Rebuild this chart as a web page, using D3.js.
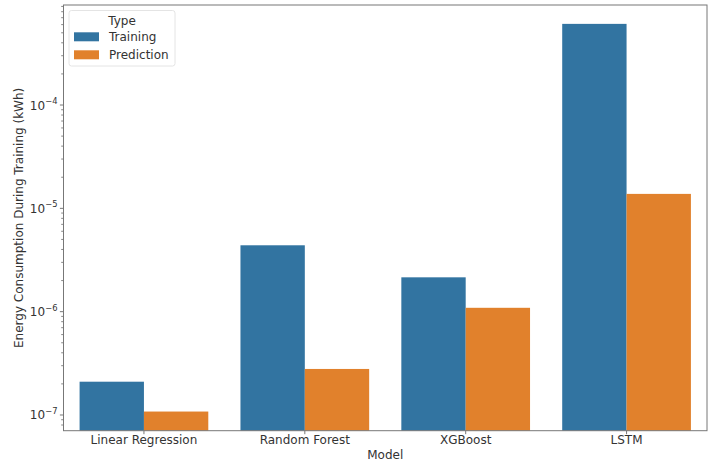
<!DOCTYPE html>
<html><head><meta charset="utf-8">
<script src="https://cdn.jsdelivr.net/npm/d3@7/dist/d3.min.js"></script>
<style>body{margin:0;background:#fff}</style>
</head><body>
<svg id="c" width="717" height="462"></svg>
<script>
const models = ["Linear Regression", "Random Forest", "XGBoost", "LSTM"];
const types = ["Training", "Prediction"];
const training = [2.10e-7, 4.39e-6, 2.15e-6, 6.1e-4];
const prediction = [1.08e-7, 2.79e-7, 1.09e-6, 1.38e-5];
const majorTicks = [1e-7, 1e-6, 1e-5, 1e-4];
const tickExps = ["−7", "−6", "−5", "−4"];
const colors = ["#3274a1", "#e1812c"];

const svg = d3.select("#c");
const L = 63.5, R = 707, T = 5, B = 430.7;
const font = "DejaVu Sans, sans-serif";
const fs = 12;
const x = d3.scaleBand().domain(models).range([L, R]).paddingInner(0).paddingOuter(0);
const xs = d3.scaleBand().domain(types).range([0, x.bandwidth()]).paddingInner(0).paddingOuter(0.25);
const y = d3.scaleLog().domain([Math.pow(10, -7.152), Math.pow(10, -3.032)]).range([B, T]);

const series = [training, prediction];
types.forEach((t, ti) => {
  svg.append("g").selectAll("rect").data(models).enter().append("rect")
    .attr("x", d => x(d) + xs(t))
    .attr("width", xs.bandwidth())
    .attr("y", (d, i) => y(series[ti][i]))
    .attr("height", (d, i) => B - y(series[ti][i]))
    .attr("fill", colors[ti]);
});

// minor ticks
const minor = [];
for (let e = -8; e <= -3; e++) for (let m = 2; m <= 9; m++) {
  const v = m * Math.pow(10, e);
  if (y(v) >= T && y(v) <= B) minor.push(v);
}
svg.append("g").selectAll("line").data(minor).enter().append("line")
  .attr("x1", L - 2.3).attr("x2", L).attr("y1", d => y(d)).attr("y2", d => y(d))
  .attr("stroke", "#555").attr("stroke-width", 0.7);
svg.append("g").selectAll("line").data(majorTicks).enter().append("line")
  .attr("x1", L - 3.6).attr("x2", L).attr("y1", d => y(d)).attr("y2", d => y(d))
  .attr("stroke", "#555").attr("stroke-width", 0.8);

const yl = svg.append("g").selectAll("text").data(majorTicks).enter().append("text")
  .attr("x", L - 6).attr("y", d => y(d) + 4.5)
  .attr("text-anchor", "end").attr("font-family", font).attr("font-size", fs).attr("fill", "#333");
yl.append("tspan").text("10");
yl.append("tspan").attr("font-size", 8.4).attr("dy", -5.5).text((d, i) => tickExps[i]);

// x ticks
svg.append("g").selectAll("line").data(models).enter().append("line")
  .attr("x1", d => x(d) + x.bandwidth() / 2).attr("x2", d => x(d) + x.bandwidth() / 2)
  .attr("y1", B).attr("y2", B + 3.5).attr("stroke", "#555").attr("stroke-width", 0.8);
svg.append("g").selectAll("text").data(models).enter().append("text")
  .attr("x", d => x(d) + x.bandwidth() / 2).attr("y", 444)
  .attr("text-anchor", "middle").attr("font-family", font).attr("font-size", fs).attr("fill", "#333")
  .text(d => d);

// spines
svg.append("rect").attr("x", L).attr("y", T).attr("width", R - L).attr("height", B - T)
  .attr("fill", "none").attr("stroke", "#777").attr("stroke-width", 1);

svg.append("text").attr("x", (L + R) / 2).attr("y", 459).attr("text-anchor", "middle")
  .attr("font-family", font).attr("font-size", fs).attr("fill", "#333").text("Model");
svg.append("text").attr("transform", `translate(23,${(T + B) / 2}) rotate(-90)`)
  .attr("text-anchor", "middle").attr("font-family", font).attr("font-size", fs).attr("fill", "#333")
  .text("Energy Consumption During Training (kWh)");

// legend
const lg = svg.append("g");
lg.append("rect").attr("x", 69).attr("y", 10.5).attr("width", 106).attr("height", 55.5).attr("rx", 2.5)
  .attr("fill", "#fff").attr("fill-opacity", 0.8).attr("stroke", "#ddd").attr("stroke-width", 0.8);
lg.append("text").attr("x", 122).attr("y", 24.5).attr("text-anchor", "middle")
  .attr("font-family", font).attr("font-size", fs).attr("fill", "#333").text("Type");
types.forEach((t, i) => {
  lg.append("rect").attr("x", 74).attr("y", 32.3 + i * 18).attr("width", 25).attr("height", 9)
    .attr("fill", colors[i]);
  lg.append("text").attr("x", 109).attr("y", 41 + i * 18)
    .attr("font-family", font).attr("font-size", fs).attr("fill", "#333").text(t);
});
</script>
</body></html>
